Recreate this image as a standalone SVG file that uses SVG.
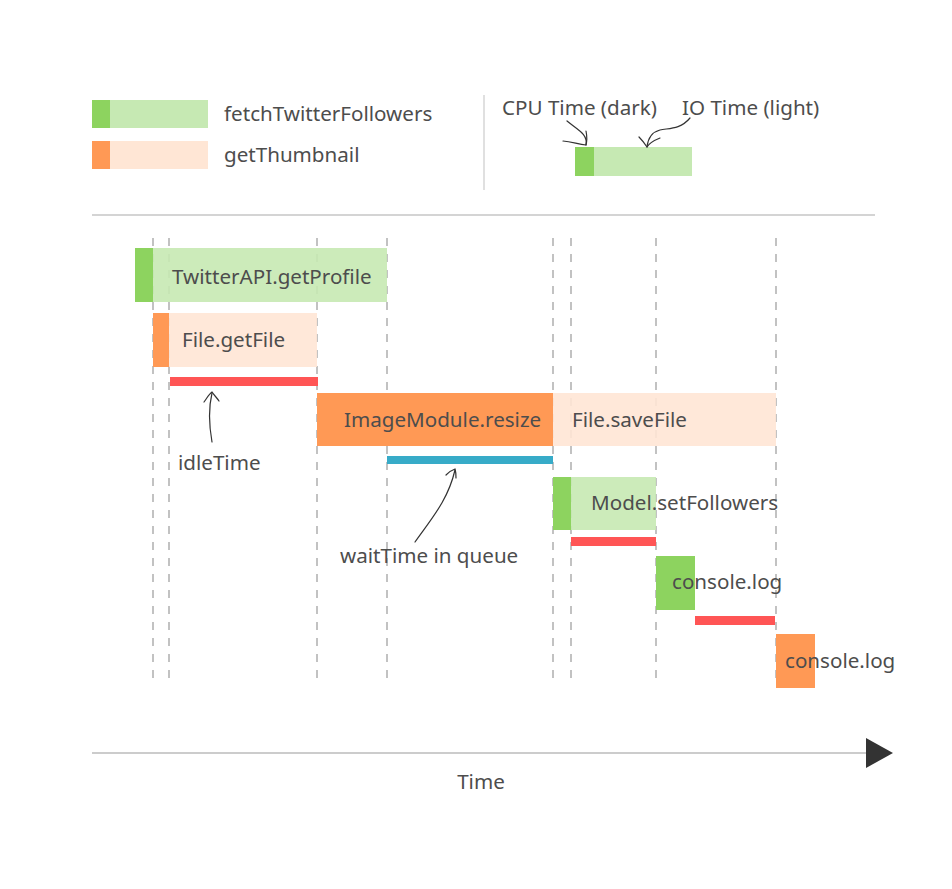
<svg xmlns="http://www.w3.org/2000/svg" width="952" height="889" viewBox="0 0 952 889">
<style>
text{font-family:"Noto Sans","Open Sans","Liberation Sans",sans-serif;font-size:20.6px;fill:#4d4d4d}
.dg{fill:#8dd35f}.lg{fill:#c6e9b3}.do{fill:#ff9955}.lo{fill:#ffe6d5}
.red{fill:#ff5555}.blue{fill:#37abc8}
.dash{stroke:#9a9a9a;stroke-width:1.2;stroke-dasharray:8,8;fill:none}
.hand{stroke:#333;stroke-width:1.2;fill:none;stroke-linecap:round}
</style>
<rect width="952" height="889" fill="#fff"/>
<g id="legend">
<rect class="lg" x="92" y="100" width="116" height="28"/><rect class="dg" x="92" y="100" width="18" height="28"/>
<text x="224" y="121">fetchTwitterFollowers</text>
<rect class="lo" x="92" y="141" width="116" height="28"/><rect class="do" x="92" y="141" width="18" height="28"/>
<text x="224" y="162">getThumbnail</text>
<line x1="484" y1="95" x2="484" y2="190" stroke="#ccc" stroke-width="1.2"/>
<text x="502" y="115">CPU Time (dark)</text>
<text x="682" y="115">IO Time (light)</text>
<rect class="lg" x="575" y="147" width="117" height="29"/><rect class="dg" x="575" y="147" width="19" height="29"/>
</g>
<g id="legend-arrows">
<path class="hand" d="M567,121 C578,130 588,134 586,145"/>
<path class="hand" d="M563,141 C572,142 578,144 586,145 M586,131 C587,136 587,141 586,145"/>
<path class="hand" d="M690,118 C680,130 668,128 660,130 C652,132 648,138 647,147"/>
<path class="hand" d="M639,137 C642,140 645,144 647,147 C650,142 655,140 660,138"/>
</g>
<line x1="92" y1="215" x2="875" y2="215" stroke="#aaa" stroke-width="1.2"/>
<g id="gridlines">
<line class="dash" x1="153" y1="238" x2="153" y2="685"/>
<line class="dash" x1="169" y1="238" x2="169" y2="685"/>
<line class="dash" x1="317" y1="238" x2="317" y2="685"/>
<line class="dash" x1="387" y1="238" x2="387" y2="685"/>
<line class="dash" x1="553" y1="238" x2="553" y2="685"/>
<line class="dash" x1="571" y1="238" x2="571" y2="685"/>
<line class="dash" x1="656" y1="238" x2="656" y2="685"/>
<line class="dash" x1="776" y1="238" x2="776" y2="685"/>
</g>
<g id="getProfile">
<rect class="lg" x="135" y="248" width="252" height="54" opacity="0.9"/><rect class="dg" x="135" y="248" width="18" height="54"/>
<text x="172" y="284">TwitterAPI.getProfile</text>
</g>
<g id="getFile">
<rect class="lo" x="153" y="313" width="164" height="54" opacity="0.9"/><rect class="do" x="153" y="313" width="16" height="54"/>
<text x="182" y="347">File.getFile</text>
</g>
<g id="idle1"><rect class="red" x="170" y="377" width="148" height="9"/></g>
<g id="resize">
<rect class="do" x="317" y="393" width="236" height="53"/>
<text x="344" y="427">ImageModule.resize</text>
</g>
<g id="saveFile">
<rect class="lo" x="553" y="393" width="223" height="53" opacity="0.9"/>
<text x="572" y="427">File.saveFile</text>
</g>
<g id="wait"><rect class="blue" x="387" y="456" width="166" height="8"/></g>
<g id="setFollowers">
<rect class="lg" x="553" y="477" width="103" height="53" opacity="0.9"/><rect class="dg" x="553" y="477" width="18" height="53"/>
<text x="591" y="510">Model.setFollowers</text>
</g>
<g id="idle2"><rect class="red" x="571" y="537" width="85" height="9"/></g>
<g id="log1">
<rect class="dg" x="656" y="556" width="39" height="54"/>
<text x="672" y="589">console.log</text>
</g>
<g id="idle3"><rect class="red" x="695" y="616" width="80" height="9"/></g>
<g id="log2">
<rect class="do" x="776" y="634" width="39" height="54"/>
<text x="785" y="668">console.log</text>
</g>
<g id="annotations">
<path class="hand" d="M212,442 C209,425 208,410 212,393"/>
<path class="hand" d="M204,402 C207,398 209,394 212,392 C214,395 217,398 219,401"/>
<text x="178" y="470">idleTime</text>
<path class="hand" d="M415,542 C432,518 448,500 455,470"/>
<path class="hand" d="M446,475 C449,472 452,470 455,469 C456,472 456,475 456,478"/>
<text x="340" y="563">waitTime in queue</text>
</g>
<g id="axis">
<line x1="92" y1="753" x2="868" y2="753" stroke="#999" stroke-width="1.2"/>
<polygon points="866,738 893,753 866,768" fill="#333"/>
<text x="481" y="789" text-anchor="middle">Time</text>
</g>
</svg>
